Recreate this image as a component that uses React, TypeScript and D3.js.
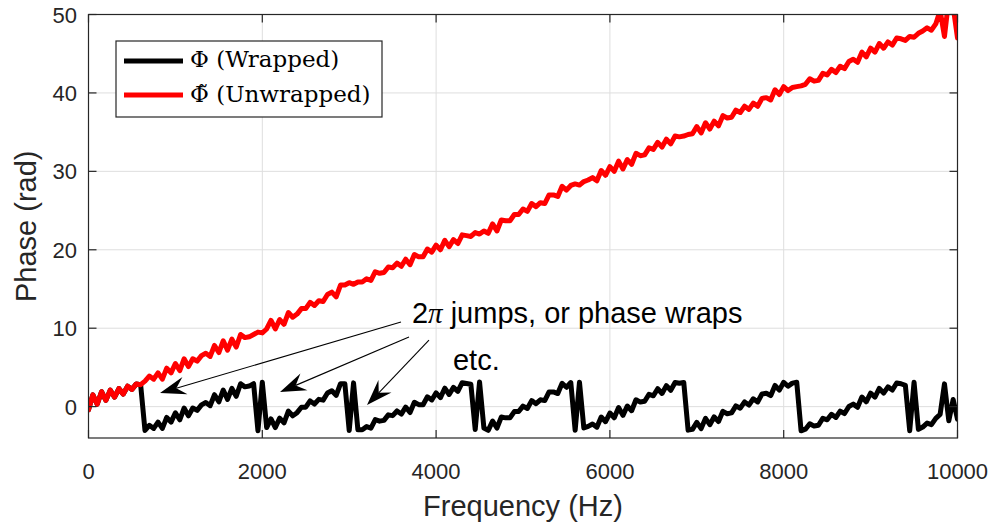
import React from "react";
import * as d3 from "d3";

// Sample frequencies (Hz), 50 Hz spacing
const freqs: number[] = d3.range(0, 10001, 50);

// Unwrapped phase (rad)
const unwrapped: number[] = [
  -0.4, 1.5, 0.3, 1.9, 0.8, 2.1, 1.2, 2.3, 1.6, 2.6,
  2.2, 2.9, 2.8, 3.25, 3.9, 3.5, 4.3, 3.5, 4.9, 4.3,
  5.5, 4.6, 6.1, 5.1, 6.1, 5.8, 6.5, 6.8, 6.4, 7.8,
  6.9, 8.4, 7.2, 8.6, 7.6, 9.2, 8.8, 8.9, 9.2, 9.5,
  9.4, 9.9, 11.0, 9.9, 11.1, 10.5, 12.0, 11.4, 11.8, 12.5,
  12.5, 13.3, 12.9, 13.5, 13.4, 14.3, 14.6, 14.0, 15.5, 15.5,
  15.8, 15.6, 15.9, 15.9, 16.3, 16.1, 17.2, 17.0, 17.1, 17.8,
  17.7, 18.3, 17.9, 18.8, 18.1, 19.4, 19.1, 19.1, 20.1, 19.7,
  20.6, 20.0, 21.2, 20.4, 21.3, 20.8, 21.9, 21.8, 21.7, 22.2,
  22.0, 22.4, 22.1, 23.3, 22.4, 23.8, 23.7, 23.7, 24.5, 24.5,
  25.2, 24.9, 25.9, 25.5, 26.0, 25.9, 27.0, 27.0, 26.8, 28.1,
  27.6, 28.2, 28.4, 28.25, 28.7, 28.9, 29.2, 28.8, 30.1, 29.5,
  30.6, 30.0, 31.3, 30.3, 31.5, 30.9, 32.3, 32.0, 32.1, 33.0,
  32.8, 33.7, 33.1, 34.1, 33.5, 34.5, 34.4, 34.5, 34.7, 34.8,
  35.7, 34.9, 36.2, 35.4, 36.4, 35.8, 37.1, 36.8, 36.9, 37.8,
  37.5, 38.3, 37.9, 38.7, 38.3, 39.3, 39.4, 39.1, 40.4, 39.8,
  40.8, 40.3, 40.7, 40.8, 40.9, 41.1, 41.8, 41.5, 41.6, 42.5,
  42.3, 43.0, 42.6, 43.4, 43.1, 44.0, 44.3, 43.9, 45.2, 44.6,
  45.7, 45.2, 46.3, 45.7, 46.5, 46.1, 47.0, 46.9, 46.7, 47.2,
  47.1, 47.6, 47.9, 48.3, 48.0, 48.8, 50.5, 47.2, 52.0, 51.0,
  47.0,
];

// Wrapped phase (rad)
const wrapped: number[] = [
  -0.4, 1.5, 0.3, 1.9, 0.8, 2.1, 1.2, 2.3, 1.6, 2.6,
  2.2, 2.9, 2.8, -3.03, -2.38, -2.78, -1.98, -2.78, -1.38, -1.98,
  -0.78, -1.68, -0.18, -1.18, -0.18, -0.48, 0.22, 0.52, 0.12, 1.52,
  0.62, 2.12, 0.92, 2.32, 1.32, 2.92, 2.52, 2.62, 2.92, -3.07,
  3.12, -2.67, -1.57, -2.67, -1.47, -2.07, -0.57, -1.17, -0.77, -0.07,
  -0.07, 0.73, 0.33, 0.93, 0.83, 1.73, 2.03, 1.43, 2.93, 2.93,
  -3.05, 3.03, -2.95, -2.95, -2.55, -2.75, -1.65, -1.85, -1.75, -1.05,
  -1.15, -0.55, -0.95, -0.05, -0.75, 0.55, 0.25, 0.25, 1.25, 0.85,
  1.75, 1.15, 2.35, 1.55, 2.45, 1.95, 3.05, 2.95, 2.85, -2.93,
  3.13, -2.73, -3.03, -1.83, -2.73, -1.33, -1.43, -1.43, -0.63, -0.63,
  0.07, -0.23, 0.77, 0.37, 0.87, 0.77, 1.87, 1.87, 1.67, 2.97,
  2.47, 3.07, -3.02, 3.12, -2.72, -2.52, -2.22, -2.62, -1.32, -1.92,
  -0.82, -1.42, -0.12, -1.12, 0.08, -0.52, 0.88, 0.58, 0.68, 1.58,
  1.38, 2.28, 1.68, 2.68, 2.08, 3.08, 2.98, 3.08, -3.0, -2.9,
  -2.0, -2.8, -1.5, -2.3, -1.3, -1.9, -0.6, -0.9, -0.8, 0.1,
  -0.2, 0.6, 0.2, 1.0, 0.6, 1.6, 1.7, 1.4, 2.7, 2.1,
  3.1, 2.6, 3.0, 3.1, -3.08, -2.88, -2.18, -2.48, -2.38, -1.48,
  -1.68, -0.98, -1.38, -0.58, -0.88, 0.02, 0.32, -0.08, 1.22, 0.62,
  1.72, 1.22, 2.32, 1.72, 2.52, 2.12, 3.02, 2.92, 2.72, -3.07,
  3.12, -2.9, -2.6, -2.1, -2.3, -1.5, -1.0, 2.9, -1.8, 0.9,
  -1.6,
];

const xTicks: number[] = [0, 2000, 4000, 6000, 8000, 10000];
const yTicks: number[] = [0, 10, 20, 30, 40, 50];

// Annotation anchors in data units: [fromHz, fromRad, toHz, toRad]
const arrows: number[][] = [
  [3596, 10.79, 823, 1.73],
  [3688, 8.87, 2204, 1.86],
  [3918, 8.49, 3205, 0.2],
];
const annoMain = { f: 3722, v: 10.66 };
const annoEtc = { f: 4194, v: 4.63 };

const W = 997;
const H = 527;
const L = 88.5, R = 957.5, T = 14.5, B = 438;
const AX = "#262626";
const GRID = "#dedede";
const SANS = "'Liberation Sans', Arial, Helvetica, sans-serif";
const SERIF = "'DejaVu Serif', serif";

export default function App() {
  const x = d3.scaleLinear().domain([0, 10000]).range([L, R]);
  const y = d3.scaleLinear().domain([-4, 50]).range([B, T]);

  const redPts = freqs.map((f, i) => [f, unwrapped[i]] as [number, number]).filter((d) => d[1] !== undefined);
  const blkPts = freqs.map((f, i) => [f, wrapped[i]] as [number, number]).filter((d) => d[1] !== undefined);
  const line = d3
    .line<[number, number]>()
    .x((d) => x(d[0]))
    .y((d) => y(d[1]));

  const arrowShapes = arrows.map((a, i) => {
    const x1 = x(a[0]), y1 = y(a[1]), x2 = x(a[2]), y2 = y(a[3]);
    const dx = x2 - x1, dy = y2 - y1;
    const len = Math.hypot(dx, dy);
    const ux = dx / len, uy = dy / len;
    const nx = -uy, ny = ux;
    const HL = 26, HW = 9, NOTCH = 17;
    const bx = x2 - ux * HL, by = y2 - uy * HL;
    const mx = x2 - ux * NOTCH, my = y2 - uy * NOTCH;
    const pts = [
      [x2, y2],
      [bx + nx * HW, by + ny * HW],
      [mx, my],
      [bx - nx * HW, by - ny * HW],
    ];
    return (
      <g key={i}>
        <line x1={x1} y1={y1} x2={mx} y2={my} stroke="#000" strokeWidth={1.1} />
        <polygon points={pts.map((p) => p.join(",")).join(" ")} fill="#000" />
      </g>
    );
  });

  return (
    <svg
      width={W}
      height={H}
      style={{ position: "absolute", left: 0, top: 0, background: "#fff" }}
    >
      <defs>
        <clipPath id="plotClip">
          <rect x={L} y={T} width={R - L} height={B - T} />
        </clipPath>
      </defs>
      <rect x={0} y={0} width={W} height={H} fill="#fff" />
      {xTicks.map((t) => (
        <line key={"gx" + t} x1={x(t)} x2={x(t)} y1={T} y2={B} stroke={GRID} strokeWidth={1} />
      ))}
      {yTicks.map((t) => (
        <line key={"gy" + t} x1={L} x2={R} y1={y(t)} y2={y(t)} stroke={GRID} strokeWidth={1} />
      ))}
      <g clipPath="url(#plotClip)">
        <path d={line(blkPts) || ""} fill="none" stroke="#000" strokeWidth={5} strokeLinejoin="round" strokeLinecap="round" />
        <path d={line(redPts) || ""} fill="none" stroke="#ff0000" strokeWidth={5} strokeLinejoin="round" strokeLinecap="round" />
      </g>
      <rect x={L} y={T} width={R - L} height={B - T} fill="none" stroke={AX} strokeWidth={1.2} />
      {xTicks.map((t) => (
        <g key={"tx" + t}>
          <line x1={x(t)} x2={x(t)} y1={B} y2={B - 8} stroke={AX} strokeWidth={1.2} />
          <line x1={x(t)} x2={x(t)} y1={T} y2={T + 8} stroke={AX} strokeWidth={1.2} />
          <text x={x(t)} y={479} textAnchor="middle" fontFamily={SANS} fontSize={22} fill={AX}>
            {t}
          </text>
        </g>
      ))}
      {yTicks.map((t) => (
        <g key={"ty" + t}>
          <line x1={L} x2={L + 8} y1={y(t)} y2={y(t)} stroke={AX} strokeWidth={1.2} />
          <line x1={R} x2={R - 8} y1={y(t)} y2={y(t)} stroke={AX} strokeWidth={1.2} />
          <text x={77} y={y(t) + 8} textAnchor="end" fontFamily={SANS} fontSize={22} fill={AX}>
            {t}
          </text>
        </g>
      ))}
      <text x={(L + R) / 2} y={516} textAnchor="middle" fontFamily={SANS} fontSize={29} fill={AX}>
        Frequency (Hz)
      </text>
      <text
        transform={`translate(36,${(T + B) / 2}) rotate(-90)`}
        textAnchor="middle"
        fontFamily={SANS}
        fontSize={29}
        fill={AX}
      >
        Phase (rad)
      </text>
      {arrowShapes}
      <text x={x(annoMain.f)} y={y(annoMain.v)} fontFamily={SANS} fontSize={29} fill="#000">
        2
        <tspan fontFamily="'Liberation Serif', serif" fontStyle="italic">π</tspan>
        <tspan> jumps, or phase wraps</tspan>
      </text>
      <text x={x(annoEtc.f)} y={y(annoEtc.v)} fontFamily={SANS} fontSize={29} fill="#000">
        etc.
      </text>
      <rect x={116} y={41} width={266} height={76} fill="#fff" stroke={AX} strokeWidth={1.2} />
      <line x1={124} x2={183} y1={61} y2={61} stroke="#000" strokeWidth={5} />
      <line x1={124} x2={183} y1={95} y2={95} stroke="#ff0000" strokeWidth={5} />
      <text x={190} y={67} fontFamily={SERIF} fontSize={23} fill="#000">
        Φ (Wrapped)
      </text>
      <text x={190} y={102} fontFamily={SERIF} fontSize={23} fill="#000">
        {"Φ\u0303 (Unwrapped)"}
      </text>
    </svg>
  );
}
